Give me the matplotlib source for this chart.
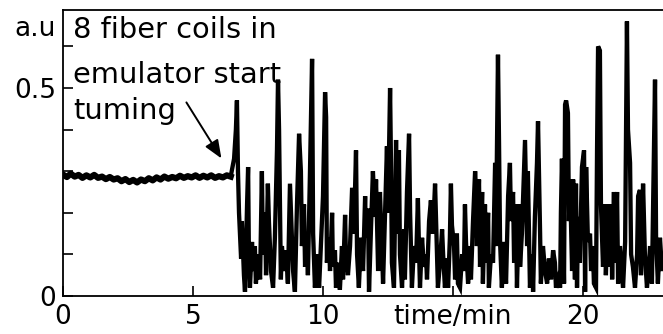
import matplotlib
matplotlib.use("Agg")
import matplotlib.pyplot as plt

# ------------------------------------------------------------
# Data (time in min, signal in a.u.)
# ------------------------------------------------------------

# quiet part before the coils start moving
t_quiet = [0.0, 0.15, 0.3, 0.45, 0.6, 0.75, 0.9, 1.05, 1.2, 1.35, 1.5,
           1.65, 1.8, 1.95, 2.1, 2.25, 2.4, 2.55, 2.7, 2.85, 3.0, 3.15,
           3.3, 3.45, 3.6, 3.75, 3.9, 4.05, 4.2, 4.35, 4.5, 4.65, 4.8,
           4.95, 5.1, 5.25, 5.4, 5.55, 5.7, 5.85, 6.0, 6.15, 6.3, 6.45]
v_quiet = [0.292, 0.286, 0.294, 0.287, 0.291, 0.284, 0.290, 0.285, 0.291,
           0.284, 0.287, 0.281, 0.286, 0.280, 0.283, 0.276, 0.281, 0.274,
           0.279, 0.273, 0.280, 0.276, 0.283, 0.278, 0.285, 0.280, 0.287,
           0.282, 0.286, 0.283, 0.289, 0.284, 0.288, 0.285, 0.290, 0.284,
           0.289, 0.285, 0.290, 0.284, 0.288, 0.285, 0.290, 0.287]

# fluctuating part after tuning starts
t_tune = [6.45, 6.58, 6.65, 6.69, 6.73, 6.77, 6.85, 6.88, 6.96, 7.00,
          7.08, 7.12, 7.15, 7.19, 7.27, 7.31, 7.38, 7.42, 7.50, 7.58,
          7.65, 7.69, 7.77, 7.81, 7.88, 7.92, 8.00, 8.08, 8.15, 8.23,
          8.27, 8.31, 8.38, 8.42, 8.50, 8.58, 8.65, 8.73, 8.77, 8.85,
          8.92, 9.00, 9.08, 9.15, 9.19, 9.27, 9.31, 9.38, 9.42, 9.50,
          9.58, 9.62, 9.69, 9.77, 9.85, 9.92, 10.00, 10.08, 10.12, 10.15,
          10.23, 10.27, 10.35, 10.38, 10.46, 10.50, 10.58, 10.65, 10.73, 10.77,
          10.85, 10.88, 10.96, 11.04, 11.12, 11.19, 11.27, 11.31, 11.38, 11.46,
          11.54, 11.62, 11.65, 11.73, 11.77, 11.85, 11.92, 12.00, 12.04, 12.12,
          12.19, 12.27, 12.31, 12.38, 12.46, 12.50, 12.58, 12.62, 12.65, 12.73,
          12.81, 12.85, 12.92, 12.96, 13.04, 13.12, 13.15, 13.23, 13.31, 13.35,
          13.42, 13.50, 13.58, 13.65, 13.69, 13.73, 13.81, 13.88, 13.96, 14.00,
          14.08, 14.15, 14.23, 14.31, 14.35, 14.42, 14.50, 14.58, 14.62, 14.69,
          14.77, 14.81, 14.88, 14.92, 14.96, 15.04, 15.08, 15.15, 15.19, 15.27,
          15.35, 15.42, 15.46, 15.50, 15.58, 15.65, 15.69, 15.77, 15.85, 15.88,
          15.92, 16.00, 16.04, 16.12, 16.15, 16.23, 16.27, 16.35, 16.38, 16.46,
          16.54, 16.62, 16.65, 16.73, 16.77, 16.81, 16.88, 16.96, 17.04, 17.12,
          17.19, 17.23, 17.31, 17.35, 17.42, 17.46, 17.54, 17.58, 17.65, 17.73,
          17.77, 17.85, 17.88, 17.96, 18.04, 18.08, 18.15, 18.23, 18.27, 18.35,
          18.38, 18.46, 18.54, 18.62, 18.69, 18.77, 18.85, 18.92, 18.96, 19.04,
          19.12, 19.15, 19.19, 19.27, 19.31, 19.35, 19.42, 19.46, 19.50, 19.58,
          19.62, 19.69, 19.73, 19.77, 19.81, 19.88, 19.96, 20.04, 20.08, 20.12,
          20.19, 20.27, 20.31, 20.38, 20.42, 20.50, 20.54, 20.58, 20.65, 20.69,
          20.77, 20.85, 20.88, 20.96, 21.00, 21.08, 21.12, 21.19, 21.23, 21.31,
          21.35, 21.42, 21.50, 21.54, 21.62, 21.69, 21.73, 21.81, 21.85, 21.92,
          22.00, 22.08, 22.12, 22.19, 22.23, 22.31, 22.38, 22.46, 22.54, 22.58,
          22.65, 22.69, 22.77, 22.81, 22.88, 22.96, 23.04, 23.12]
v_tune = [0.287, 0.33, 0.40, 0.47, 0.30, 0.20, 0.09, 0.18, 0.05, 0.01,
          0.22, 0.31, 0.10, 0.02, 0.13, 0.06, 0.12, 0.03, 0.10, 0.04,
          0.30, 0.10, 0.20, 0.05, 0.27, 0.18, 0.06, 0.02, 0.14, 0.35,
          0.52, 0.40, 0.04, 0.12, 0.06, 0.11, 0.03, 0.27, 0.20, 0.06,
          0.01, 0.22, 0.39, 0.30, 0.12, 0.22, 0.07, 0.14, 0.05, 0.30,
          0.57, 0.15, 0.02, 0.10, 0.02, 0.12, 0.24, 0.49, 0.43, 0.08,
          0.14, 0.06, 0.20, 0.07, 0.11, 0.02, 0.08, 0.015, 0.12, 0.04,
          0.195, 0.10, 0.05, 0.12, 0.26, 0.15, 0.35, 0.10, 0.02, 0.14,
          0.06, 0.24, 0.14, 0.21, 0.01, 0.17, 0.30, 0.19, 0.28, 0.06,
          0.25, 0.11, 0.03, 0.18, 0.36, 0.20, 0.50, 0.29, 0.08, 0.02,
          0.375, 0.15, 0.35, 0.10, 0.02, 0.16, 0.04, 0.25, 0.39, 0.20,
          0.02, 0.12, 0.08, 0.235, 0.12, 0.02, 0.14, 0.07, 0.10, 0.04,
          0.18, 0.23, 0.15, 0.27, 0.18, 0.02, 0.08, 0.16, 0.10, 0.02,
          0.09, 0.02, 0.14, 0.27, 0.17, 0.12, 0.04, 0.15, 0.03, 0.02,
          0.10, 0.06, 0.22, 0.13, 0.03, 0.12, 0.04, 0.18, 0.30, 0.26,
          0.12, 0.28, 0.07, 0.25, 0.03, 0.22, 0.08, 0.20, 0.02, 0.10,
          0.08, 0.32, 0.12, 0.58, 0.37, 0.13, 0.02, 0.13, 0.03, 0.24,
          0.32, 0.18, 0.25, 0.08, 0.22, 0.02, 0.22, 0.07, 0.15, 0.30,
          0.375, 0.12, 0.30, 0.02, 0.10, 0.01, 0.19, 0.32, 0.42, 0.15,
          0.03, 0.12, 0.06, 0.03, 0.09, 0.04, 0.11, 0.08, 0.02, 0.04,
          0.02, 0.20, 0.33, 0.03, 0.46, 0.47, 0.44, 0.18, 0.28, 0.06,
          0.28, 0.04, 0.27, 0.02, 0.19, 0.08, 0.31, 0.35, 0.01, 0.31,
          0.13, 0.15, 0.06, 0.12, 0.03, 0.02, 0.35, 0.60, 0.59, 0.22,
          0.07, 0.22, 0.05, 0.22, 0.07, 0.22, 0.04, 0.25, 0.08, 0.25,
          0.03, 0.12, 0.05, 0.02, 0.13, 0.66, 0.40, 0.32, 0.10, 0.07,
          0.02, 0.10, 0.24, 0.255, 0.05, 0.27, 0.10, 0.02, 0.08, 0.12,
          0.03, 0.19, 0.52, 0.14, 0.03, 0.14, 0.06, 0.10]

x_ticks = [0, 5, 10, 15, 20]
x_labels = ["0", "5", "10", "time/min", "20"]
y_ticks = [0, 0.1, 0.2, 0.3, 0.4, 0.5, 0.6]
y_labels = ["0", "", "", "", "", "0.5", ""]

# ------------------------------------------------------------
# Figure
# ------------------------------------------------------------
plt.rcParams["font.family"] = ["DejaVu Sans"]
FS = 19
FS_NOTE = 20.8

fig = plt.figure(figsize=(6.63, 3.34), dpi=100)
# axes runs past the right border, like the cropped original
ax = fig.add_axes([0.095, 0.1138, 0.9216, 0.8563])

# quiet trace is a thick noisy band in the original
ax.plot(t_quiet, v_quiet, color="black", lw=4.5)
ax.plot(t_tune, v_tune, color="black", lw=3.1, solid_joinstyle="miter")

ax.set_xlim(0, 23.5)
ax.set_ylim(0, 0.6875)
ax.set_xticks(x_ticks)
ax.set_xticklabels(x_labels)
ax.set_yticks(y_ticks)
ax.set_yticklabels(y_labels)
ax.tick_params(direction="in", length=7, width=1.2, labelsize=FS,
               colors="black")
ax.tick_params(axis="x", pad=6)
ax.tick_params(axis="y", pad=5)
for s in ax.spines.values():
    s.set_linewidth(1.3)

ax.text(-0.012, 0.935, "a.u", transform=ax.transAxes, ha="right",
        va="center", fontsize=FS)

# annotation
ax.text(0.017, 0.902, "8 fiber coils in", transform=ax.transAxes,
        fontsize=FS_NOTE, va="baseline")
ax.text(0.017, 0.745, "emulator start", transform=ax.transAxes,
        fontsize=FS_NOTE, va="baseline")
ax.text(0.017, 0.62, "tuming", transform=ax.transAxes,
        fontsize=FS_NOTE, va="baseline")
ax.annotate("", xy=(6.15, 0.325), xytext=(4.69, 0.471),
            arrowprops=dict(arrowstyle="-|>,head_length=1.1,head_width=0.45",
                            color="black", lw=1.4))

fig.savefig("out.png", dpi=100)
